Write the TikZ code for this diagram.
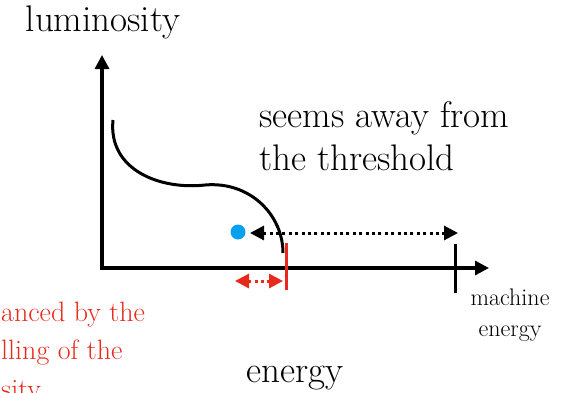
\documentclass[tikz,border=0pt]{standalone}
\usetikzlibrary{arrows.meta}
\definecolor{myred}{HTML}{E8291C}
\definecolor{myblue}{HTML}{0AA0F0}
\begin{document}
\begin{tikzpicture}[x=1pt,y=-1pt,
  >={Triangle[length=14pt,width=14pt]},
  axis/.style={line width=3.2pt,-{Triangle[length=14pt,width=14pt]}},
  dots/.style={line width=3pt,dash pattern=on 3pt off 3.4pt,<->},
  big/.style={font=\fontsize{37}{43}\selectfont,inner sep=0pt},
  small/.style={font=\fontsize{24}{31}\selectfont,inner sep=0pt},
  redtxt/.style={font=\fontsize{28}{38}\selectfont,inner sep=0pt,text=myred,align=left}]
\useasboundingbox (0,0) rectangle (570,392);
\coordinate (o) at (102,268);
\coordinate (ytop) at (102,55);
\coordinate (xend) at (489,268);
\draw[axis,line cap=rect] (o) -- (ytop);
\draw[axis] (o) -- (xend);
% curve
\coordinate (c0) at (113,120);
\coordinate (c1) at (205,185);
\coordinate (c2) at (283,253);
\draw[line width=3pt] (c0) .. controls (108,170) and (160,190) .. (c1)
  .. controls (250,181) and (283,215) .. (c2);
% ticks
\coordinate (rt) at (286,243);
\coordinate (rb) at (286,290);
\draw[myred,line width=3pt] (rt) -- (rb);
\coordinate (bt) at (455,244);
\coordinate (bb) at (455,293);
\draw[line width=3pt] (bt) -- (bb);
% dot
\node[circle,fill=myblue,minimum size=15pt,inner sep=0pt] (dot) at (238,232) {};
\coordinate (aL) at (250,233);
\coordinate (aR) at (458,233);
\draw[dots] (aL) -- (aR);
\coordinate (rL) at (235,281);
\coordinate (rR) at (283,281);
\draw[dots,myred] (rL) -- (rR);
% texts
\node[big,anchor=base] (lum) at (103,31) {luminosity};
\node[big,anchor=base west] (s1) at (259,127) {seems away from};
\node[big,anchor=base west] (s2) at (259,170) {the threshold};
\node[big,anchor=base] (en) at (295,382) {energy};
\node[small,anchor=base] (m1) at (510,305) {machine};
\node[small,anchor=base] (m2) at (510,336) {energy};
\node[redtxt,anchor=base west] (r1) at (1,321) {anced by the};
\node[redtxt,anchor=base west] (r2) at (1,359) {lling of the};
\node[redtxt,anchor=base west] (r3) at (1,398) {sity};
\end{tikzpicture}
\end{document}
